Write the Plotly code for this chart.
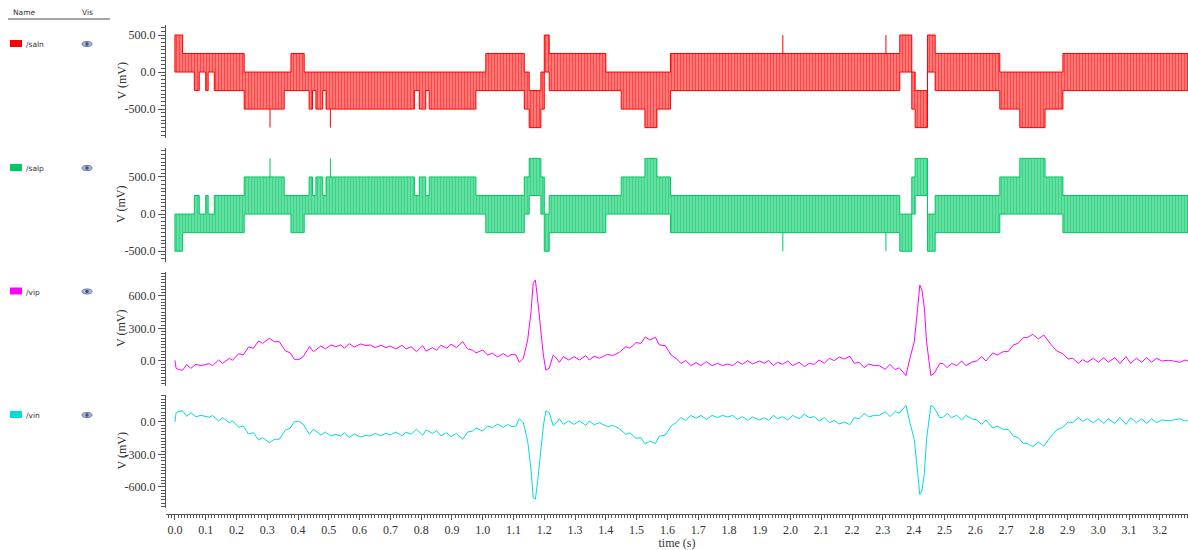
import plotly.graph_objects as go

# ------------------------------------------------------------------ data
# quantised outputs: time breakpoints and the band (low/high level, mV) the signal toggles in
seg_t = [0.000, 0.025, 0.063, 0.079, 0.100, 0.108, 0.128, 0.225, 0.355, 0.377, 0.420,
         0.436, 0.447, 0.458, 0.480, 0.491, 0.778, 0.794, 0.815, 0.826, 0.978, 1.010,
         1.135, 1.151, 1.189, 1.200, 1.216, 1.400, 1.450, 1.527, 1.566, 1.610, 2.355,
         2.394, 2.405, 2.445, 2.470, 2.680, 2.745, 2.827, 2.885, 3.291]
saln_lo = [0, 0, -250, 0, -250, 0, -250, -500, -250, -250, -250, -500, -250, -500, -250,
           -500, -250, -500, -250, -500, -250, -250, -500, -750, -500, 0, -250, -250, -500,
           -750, -500, -250, 0, -500, -750, 0, -250, -500, -750, -500, -250]
saln_hi = [500, 250, 250, 250, 250, 250, 250, 0, 0, 250, 0, 0, 0, 0, 0, 0, 0, 0, 0, 0, 0,
           250, 0, -250, 0, 500, 250, 0, 0, 0, 0, 250, 500, 0, -250, 500, 250, 0, 0, 0, 250]
salp_lo = [-500, -250, -250, -250, -250, -250, -250, 0, 0, -250, 0, 0, 0, 0, 0, 0, 0, 0, 0,
           0, 0, -250, 0, 250, 0, -500, -250, 0, 0, 0, 0, -250, -500, 0, 250, -500, -250,
           0, 0, 0, -250]
salp_hi = [0, 0, 250, 0, 250, 0, 250, 500, 250, 250, 250, 500, 250, 500, 250, 500, 250, 500,
           250, 500, 250, 250, 500, 750, 500, 0, 250, 250, 500, 750, 500, 250, 0, 500, 750,
           0, 250, 500, 750, 500, 250]
spike_t = [0.309, 0.505, 1.975, 2.310]
saln_spike_base = [-500, -500, 250, 250]
saln_spike_tip = [-750, -750, 500, 500]
salp_spike_base = [500, 500, -250, -250]
salp_spike_tip = [750, 750, -500, -500]

# analog inputs (mV)
vip_t = [0.000, 0.004, 0.014, 0.025, 0.038, 0.052, 0.068, 0.085, 0.112, 0.122, 0.142, 0.155,
         0.177, 0.187, 0.207, 0.222, 0.239, 0.255, 0.272, 0.285, 0.307, 0.323, 0.339, 0.359,
         0.374, 0.388, 0.404, 0.417, 0.437, 0.450, 0.474, 0.489, 0.507, 0.523, 0.539, 0.550,
         0.566, 0.583, 0.604, 0.621, 0.634, 0.651, 0.669, 0.686, 0.699, 0.718, 0.738, 0.751,
         0.767, 0.785, 0.805, 0.816,
         0.837, 0.850, 0.864, 0.883, 0.897, 0.915, 0.935, 0.951, 0.967, 0.978, 1.000, 1.016,
         1.032, 1.048, 1.067, 1.081, 1.095, 1.108, 1.119, 1.132, 1.146, 1.157, 1.164, 1.171,
         1.178, 1.189, 1.197, 1.205, 1.216, 1.229, 1.240, 1.249, 1.262, 1.279, 1.297, 1.314,
         1.335, 1.346, 1.362, 1.379, 1.406, 1.422, 1.444, 1.465, 1.478, 1.498, 1.514, 1.528,
         1.543, 1.561, 1.574, 1.593, 1.612, 1.628, 1.644,
         1.660, 1.676, 1.693, 1.709, 1.727, 1.745, 1.763, 1.779, 1.796, 1.812, 1.828, 1.844,
         1.861, 1.877, 1.899, 1.915, 1.929, 1.944, 1.958, 1.974, 1.991, 2.007, 2.028, 2.045,
         2.061, 2.077, 2.093, 2.110, 2.126, 2.142, 2.158, 2.175, 2.193, 2.207, 2.223, 2.240,
         2.254, 2.272, 2.288, 2.308, 2.323, 2.340, 2.353, 2.375, 2.388, 2.402, 2.413, 2.420,
         2.427, 2.435, 2.442, 2.449, 2.456, 2.467, 2.475, 2.485,
         2.496, 2.509, 2.523, 2.540, 2.556, 2.570, 2.588, 2.605, 2.621, 2.635, 2.657, 2.672,
         2.691, 2.707, 2.724, 2.740, 2.756, 2.769, 2.787, 2.805, 2.823, 2.843, 2.865, 2.884,
         2.902, 2.917, 2.935, 2.949, 2.964, 2.984, 3.000, 3.018, 3.032, 3.054, 3.070, 3.090,
         3.105, 3.124, 3.141, 3.157, 3.173, 3.189, 3.206, 3.227, 3.244, 3.265, 3.282, 3.291]
vip = [5, -70, -80, -86, -34, -68, -31, -43, -25, -43, 9, -22,
       25, 6, 68, 55, 129, 117, 185, 163, 209, 178, 178, 92,
       77, 15, 15, 40, 132, 86, 138, 111, 148, 132, 148, 117,
       160, 129, 157, 141, 148, 123, 145, 123, 138, 111, 145, 111,
       132, 86, 141, 92,
       123, 98, 145, 117, 154, 123, 178, 111, 101, 74, 101, 55,
       71, 37, 68, 40, 62, 55, -12, 25, 194, 455, 717, 748,
       578, 271, 55, -84, -68, 55, 25, -12, 40, 9, 40, 9,
       49, 9, 43, 25, 62, 49, 80, 132, 117, 169, 163, 221,
       194, 218, 148, 141, 55, 25, -22,
       5, -43, -15, -43, -6, -43, -22, -43, -28, -43, -6, -31,
       3, -28, 0, -22, 6, -43, -12, -31, 0, -43, -12, -52,
       -22, -31, 9, -22, 25, 3, 37, 18, 43, -22, -12, -62,
       -28, -43, -43, -77, -31, -80, -62, -135, 25, 178, 486, 701,
       655, 486, 178, -6, -135, -114, -68, -22,
       -25, -62, -22, -43, 0, -43, -12, 0, 40, 0, 74, 55,
       86, 86, 148, 163, 215, 215, 246, 203, 240, 163, 92, 68,
       18, 25, -22, 12, -12, 25, -12, 31, -12, 31, -25, 40,
       -22, 25, -12, 31, -12, 25, 0, 6, 0, -12, 9, 0]
vin = [0, 88, 98, 104, 52, 86, 49, 61, 43, 61, 9, 40,
       -7, 12, -50, -37, -111, -99, -167, -145, -191, -160, -160, -74,
       -59, 3, 3, -22, -114, -68, -120, -93, -130, -114, -130, -99,
       -142, -111, -139, -123, -130, -105, -127, -105, -120, -93, -127, -93,
       -114, -68, -123, -74,
       -105, -80, -127, -99, -136, -105, -160, -93, -83, -56, -83, -37,
       -53, -19, -50, -22, -44, -37, 30, -7, -176, -437, -699, -712,
       -560, -253, -37, 102, 86, -37, -7, 30, -22, 9, -22, 9,
       -31, 9, -25, -7, -44, -31, -62, -114, -99, -151, -145, -203,
       -176, -200, -130, -123, -37, -7, 40,
       13, 61, 33, 61, 24, 61, 40, 61, 46, 61, 24, 49,
       15, 46, 18, 40, 12, 61, 30, 49, 18, 61, 30, 70,
       40, 49, 9, 40, -7, 15, -19, 0, -25, 40, 30, 80,
       46, 61, 61, 95, 49, 98, 80, 153, -7, -160, -468, -670,
       -637, -468, -160, 24, 153, 132, 86, 40,
       43, 80, 40, 61, 18, 61, 30, 18, -22, 18, -56, -37,
       -68, -68, -130, -145, -197, -197, -228, -185, -222, -145, -74, -50,
       0, -7, 40, 6, 30, -7, 30, -13, 30, -13, 43, -22,
       40, -7, 30, -13, 30, -7, 18, 12, 18, 30, 9, 18]

names = ["/saln", "/salp", "/vip", "/vin"]
colors = ["#ff0000", "#00c864", "#ff00ff", "#00dcdc"]
band_bg = ["rgba(255,40,40,0.55)", "rgba(0,200,100,0.55)"]
y_ranges = [[-890, 635], [-645, 890], [-231, 821], [-794, 249]]
y_ticks = [[-500, 0, 500], [-500, 0, 500], [0, 300, 600], [-600, -300, 0]]
y_ticktext = [["-500.0", "0.0", "500.0"], ["-500.0", "0.0", "500.0"],
              ["0.0", "300.0", "600.0"], ["-600.0", "-300.0", "0.0"]]
y_minor = [50, 50, 30, 30]
x_range = [-0.029, 3.2914]

# ------------------------------------------------------------------ layout helpers
W, H = 1188, 550
L, R, T, B = 166, 0, 20, 36
PW, PH = W - L - R, H - T - B


def fx(p):
    return (p - L) / PW


def fy(p):
    return (H - B - p) / PH


panels_px = [(25, 138), (148, 262), (272, 386), (395, 508)]


def band_polygon(ts, lo, hi):
    xt, yt, xb, yb = [], [], [], []
    for i in range(len(lo)):
        xt += [ts[i], ts[i + 1]]
        yt += [hi[i], hi[i]]
        xb += [ts[i], ts[i + 1]]
        yb += [lo[i], lo[i]]
    return xt + xb[::-1] + [xt[0]], yt + yb[::-1] + [yt[0]]


def spike_path(ts, base, tip):
    xs, ys = [], []
    for t, b, v in zip(ts, base, tip):
        xs += [t, t, None]
        ys += [b, v, None]
    return xs, ys


fig = go.Figure()

for k, (lo, hi, sb, st) in enumerate([(saln_lo, saln_hi, saln_spike_base, saln_spike_tip),
                                       (salp_lo, salp_hi, salp_spike_base, salp_spike_tip)]):
    ax = "y" if k == 0 else "y2"
    px_, py_ = band_polygon(seg_t, lo, hi)
    fig.add_trace(go.Scatter(
        x=px_, y=py_, mode="lines", fill="toself",
        line=dict(color=colors[k], width=1),
        fillpattern=dict(shape="|", fgcolor=colors[k], bgcolor=band_bg[k],
                         size=3, solidity=0.5),
        xaxis="x", yaxis=ax, hoverinfo="skip", showlegend=False))
    sx, sy = spike_path(spike_t, sb, st)
    fig.add_trace(go.Scatter(x=sx, y=sy, mode="lines", line=dict(color=colors[k], width=1),
                             xaxis="x", yaxis=ax, hoverinfo="skip", showlegend=False))

fig.add_trace(go.Scatter(x=vip_t, y=vip, mode="lines", line=dict(color=colors[2], width=1),
                         xaxis="x", yaxis="y3", showlegend=False))
fig.add_trace(go.Scatter(x=vip_t, y=vin, mode="lines", line=dict(color=colors[3], width=1),
                         xaxis="x", yaxis="y4", showlegend=False))

tickfont = dict(family="Liberation Serif", size=12, color="#333333")
axis_common = dict(showline=True, linecolor="#555555", linewidth=1, ticks="outside",
                   tickcolor="#555555", showgrid=False, zeroline=False,
                   tickfont=tickfont, fixedrange=True)

layout = dict(
    width=W, height=H, margin=dict(l=L, r=R, t=T, b=B, pad=0),
    paper_bgcolor="white", plot_bgcolor="white", showlegend=False,
    xaxis=dict(domain=[0, 1], anchor="free", position=0, range=x_range,
               tickmode="linear", tick0=0, dtick=0.1, tickformat=".1f", ticklen=5,
               minor=dict(ticks="outside", ticklen=3, tickcolor="#555555",
                          tickmode="linear", tick0=0, dtick=0.01),
               title=dict(text="time (s)", font=tickfont, standoff=0),
               **axis_common),
)
for i in range(4):
    key = "yaxis" if i == 0 else f"yaxis{i + 1}"
    top, bot = panels_px[i]
    layout[key] = dict(domain=[fy(bot), fy(top)], anchor="x", range=y_ranges[i],
                       tickmode="array", tickvals=y_ticks[i], ticktext=y_ticktext[i],
                       ticklen=7,
                       minor=dict(ticks="outside", ticklen=4, tickcolor="#555555",
                                  tickmode="linear", tick0=0, dtick=y_minor[i]),
                       **axis_common)
fig.update_layout(**layout)

# y-axis titles
for i in range(4):
    top, bot = panels_px[i]
    fig.add_annotation(text="V (mV)", xref="paper", yref="paper", x=fx(121),
                       y=fy((top + bot) / 2), textangle=-90, showarrow=False,
                       font=tickfont, xanchor="center", yanchor="middle")

# left signal list panel
small = dict(family="DejaVu Sans", size=7.5, color="#333333")
fig.add_annotation(text="Name", xref="paper", yref="paper", x=fx(11), y=fy(13),
                   xanchor="left", yanchor="middle", showarrow=False, font=small)
fig.add_annotation(text="Vis", xref="paper", yref="paper", x=fx(80), y=fy(13),
                   xanchor="left", yanchor="middle", showarrow=False, font=small)
fig.add_shape(type="line", xref="paper", yref="paper", x0=fx(8), x1=fx(110),
              y0=fy(19), y1=fy(19), line=dict(color="#888888", width=1.5))

row_y = [43.5, 167.5, 291, 414.5]
for i in range(4):
    yc = row_y[i]
    fig.add_shape(type="rect", xref="paper", yref="paper", x0=fx(10), x1=fx(22),
                  y0=fy(yc + 3.5), y1=fy(yc - 3.5), fillcolor=colors[i], line=dict(width=0))
    fig.add_annotation(text=names[i], xref="paper", yref="paper", x=fx(23.5), y=fy(yc + 1),
                       xanchor="left", yanchor="middle", showarrow=False, font=small)
    # eye icon
    fig.add_shape(type="circle", xref="paper", yref="paper", x0=fx(82), x1=fx(92),
                  y0=fy(yc + 3), y1=fy(yc - 2), fillcolor="#a9b6d2",
                  line=dict(color="#6a7aa6", width=1))
    fig.add_shape(type="circle", xref="paper", yref="paper", x0=fx(85.3), x1=fx(88.7),
                  y0=fy(yc + 2.2), y1=fy(yc - 1.2), fillcolor="#3f5283",
                  line=dict(width=0))

fig.write_html("out.html", config={"displayModeBar": False},
               post_script="document.body.style.margin='0px';document.body.style.overflow='hidden';")
